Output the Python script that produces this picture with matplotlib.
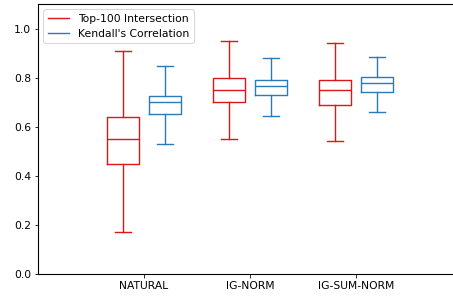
import numpy as np
import matplotlib.pyplot as plt

# categories and box statistics
ticks = ['NATURAL', 'IG-NORM', 'IG-SUM-NORM']

# Top-100 Intersection: low whisker, q1, median, q3, high whisker
top_lo = [0.17, 0.55, 0.54]
top_q1 = [0.45, 0.70, 0.69]
top_med = [0.55, 0.75, 0.75]
top_q3 = [0.64, 0.80, 0.79]
top_hi = [0.91, 0.95, 0.94]

# Kendall's Correlation
ken_lo = [0.53, 0.645, 0.658]
ken_q1 = [0.65, 0.731, 0.743]
ken_med = [0.70, 0.766, 0.780]
ken_q3 = [0.727, 0.789, 0.802]
ken_hi = [0.847, 0.878, 0.883]

plt.rcParams['font.size'] = 10.8
plt.rcParams['axes.linewidth'] = 1.1


def make_stats(lo, q1, med, q3, hi):
    return [dict(whislo=a, q1=b, med=c, q3=d, whishi=e, fliers=[])
            for a, b, c, d, e in zip(lo, q1, med, q3, hi)]


def set_box_color(bp, color):
    plt.setp(bp['boxes'], color=color, lw=1.4)
    plt.setp(bp['whiskers'], color=color, lw=1.4)
    plt.setp(bp['caps'], color=color, lw=1.4)
    plt.setp(bp['medians'], color=color, lw=1.4)


fig = plt.figure(figsize=(453 / 72, 296 / 72), dpi=72)
ax = fig.add_axes([38 / 453, 22 / 296, 424 / 453, 270 / 296])

pos = np.array(range(len(ticks))) * 2.0
bpl = ax.bxp(make_stats(top_lo, top_q1, top_med, top_q3, top_hi),
             positions=pos - 0.4, widths=0.6, showfliers=False)
bpr = ax.bxp(make_stats(ken_lo, ken_q1, ken_med, ken_q3, ken_hi),
             positions=pos + 0.4, widths=0.6, showfliers=False)
set_box_color(bpl, '#D7191C')
set_box_color(bpr, '#2C7BB6')

# legend entries
ax.plot([], c='#D7191C', lw=1.4, label='Top-100 Intersection')
ax.plot([], c='#2C7BB6', lw=1.4, label="Kendall's Correlation")
ax.legend(loc='upper left')

ax.set_xticks(range(0, len(ticks) * 2, 2))
ax.set_xticklabels(ticks)
ax.set_xlim(-2, len(ticks) * 2)
ax.set_ylim(0, 1.1)
# the plot area runs past the right edge of the image
ax.spines['right'].set_visible(False)

fig.savefig('out.png', dpi=72)
